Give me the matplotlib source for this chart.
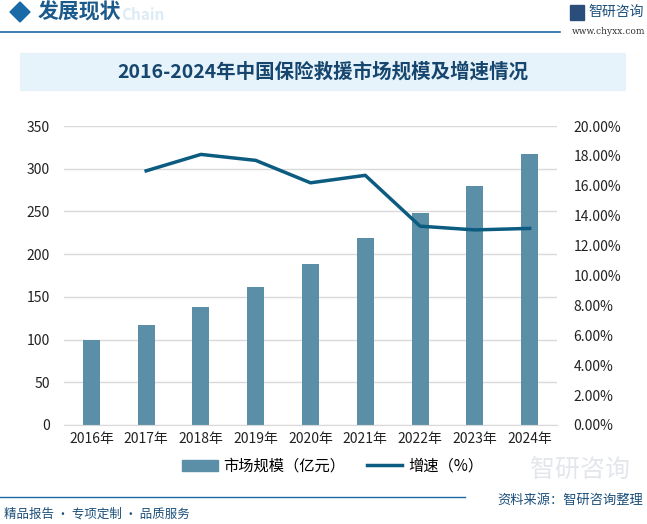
import matplotlib
matplotlib.use("Agg")
import matplotlib.pyplot as plt
from matplotlib.patches import Rectangle, Polygon
from matplotlib.lines import Line2D
import numpy as np

plt.rcParams['font.family'] = ['Noto Sans CJK SC', 'DejaVu Sans']

years = ["2016年", "2017年", "2018年", "2019年", "2020年", "2021年", "2022年", "2023年", "2024年"]
market_size = [100, 117, 138, 162, 188, 219, 248, 280, 317]
growth_years = ["2017年", "2018年", "2019年", "2020年", "2021年", "2022年", "2023年", "2024年"]
growth_rate = [17.0, 18.1, 17.7, 16.2, 16.7, 13.3, 13.05, 13.15]
left_ticks = [0, 50, 100, 150, 200, 250, 300, 350]
right_ticks = [0, 2, 4, 6, 8, 10, 12, 14, 16, 18, 20]

W, H = 647, 524
fig = plt.figure(figsize=(W / 100, H / 100), dpi=100)

bar_color = "#5b8fa8"
line_color = "#0b5c80"
dark_blue = "#1b5a8c"

# Header
fig.text(121 / W, 1 - 15 / H, "Chain", fontsize=11, fontweight="bold", color="#dcebf6", va="center", ha="left", zorder=0)
fig.patches.append(Polygon([(10 / W, 1 - 12 / H), (20 / W, 1 - 2 / H), (30 / W, 1 - 12 / H), (20 / W, 1 - 22 / H)],
                           closed=True, transform=fig.transFigure, color="#1a6aa8"))
fig.text(38 / W, 1 - 12 / H, "发展现状", fontsize=15, fontweight="bold", color=dark_blue, va="center", ha="left")
fig.add_artist(Line2D([0, 560 / W], [1 - 32 / H, 1 - 32 / H], transform=fig.transFigure, color="#1a6aa8", lw=1.2))
fig.text(644 / W, 1 - 12 / H, "智研咨询", fontsize=10, color="#1b4f7a", va="center", ha="right")
fig.patches.append(Rectangle((570 / W, 1 - 20 / H), 14 / W, 15 / H, transform=fig.transFigure, color="#2a4d7c"))
fig.text(645 / W, 1 - 32 / H, "www.chyxx.com", fontsize=6.5, color="#333333", va="center", ha="right", family="DejaVu Serif")

# Title band
fig.patches.append(Rectangle((20 / W, 1 - 90 / H), 605 / W, 37 / H, transform=fig.transFigure, color="#e6f3fb", zorder=0))
fig.text(323 / W, 1 - 72 / H, "2016-2024年中国保险救援市场规模及增速情况", fontsize=14, fontweight="bold",
         color="#16456e", va="center", ha="center")

# Main axes
ax = fig.add_axes([64 / W, 1 - 425 / H, 493 / W, 299 / H])
x = np.arange(len(years))
ax.bar(x, market_size, width=0.31, color=bar_color, zorder=2, label="市场规模（亿元）")
ax.set_ylim(0, 350)
ax.set_xlim(-0.5, len(years) - 0.5)
ax.set_yticks(left_ticks)
ax.set_xticks(x)
ax.set_xticklabels(years)
ax.grid(axis="y", color="#d9d9d9", lw=1, zorder=0)
for s in ["top", "right", "left"]:
    ax.spines[s].set_visible(False)
ax.spines["bottom"].set_color("#d9d9d9")
ax.tick_params(axis="both", length=0, labelsize=10, colors="#222222")
ax.tick_params(axis="y", pad=10)
ax.tick_params(axis="x", pad=5)

ax2 = ax.twinx()
gx = [years.index(g) for g in growth_years]
ax2.plot(gx, growth_rate, color=line_color, lw=2.5, zorder=3, label="增速（%）")
ax2.set_ylim(0, 20)
ax2.set_yticks(right_ticks)
ax2.set_yticklabels([f"{v:.2f}%" for v in right_ticks])
for s in ["top", "right", "left", "bottom"]:
    ax2.spines[s].set_visible(False)
ax2.tick_params(axis="y", length=0, labelsize=10, colors="#222222", pad=12)

# Legend
handles = [Rectangle((0, 0), 1, 1, color=bar_color), Line2D([0], [0], color=line_color, lw=2.5)]
fig.legend(handles, ["市场规模（亿元）", "增速（%）"], loc="center", bbox_to_anchor=(333 / W, 1 - 466 / H),
           ncol=2, frameon=False, fontsize=11, handlelength=2.3, columnspacing=1.4, handletextpad=0.4)

# Footer
fig.add_artist(Line2D([0, 465 / W], [1 - 497 / H, 1 - 497 / H], transform=fig.transFigure, color="#1a6aa8", lw=1))
fig.text(4 / W, 1 - 514 / H, "精品报告 · 专项定制 · 品质服务", fontsize=9, color="#1b4f7a", va="center", ha="left")
fig.text(643 / W, 1 - 500 / H, "资料来源：智研咨询整理", fontsize=9.5, color="#1b4f7a", va="center", ha="right")
fig.text(580 / W, 1 - 470 / H, "智研咨询", fontsize=18, color="#e3e7ec", va="center", ha="center", zorder=0)

fig.savefig("out.png", dpi=100)
